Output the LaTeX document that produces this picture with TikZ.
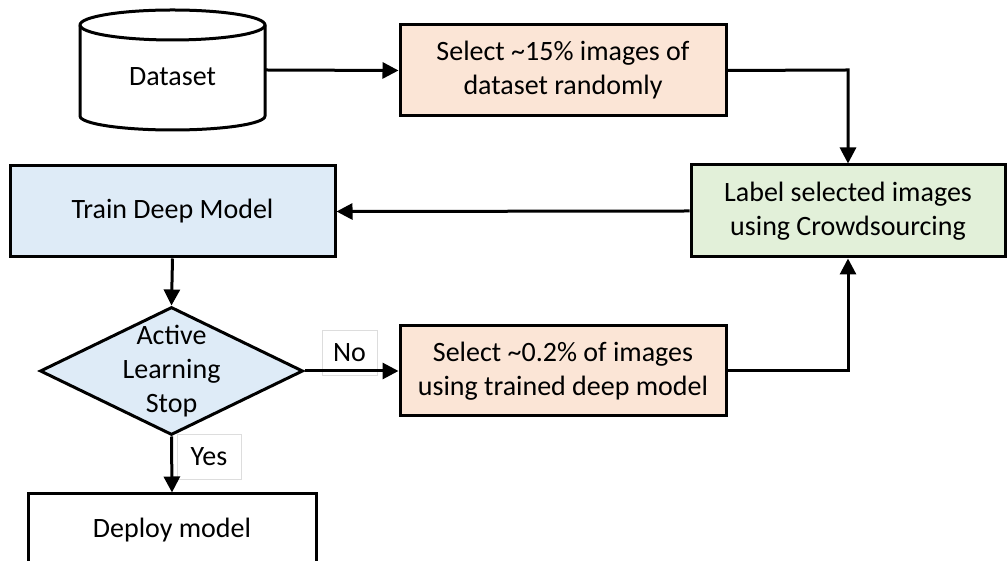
\documentclass[tikz,border=0pt]{standalone}
\usepackage{fontspec}
\setmainfont{Carlito}
\usetikzlibrary{shapes.geometric,arrows.meta}
\definecolor{peach}{HTML}{FBE5D6}
\definecolor{lblue}{HTML}{DEEBF7}
\definecolor{lgreen}{HTML}{E2F0D9}
\definecolor{tagline}{HTML}{DDDDDD}
\begin{document}
\begin{tikzpicture}[x=1pt,y=1pt,
  txt/.style={font=\fontsize{28}{34}\selectfont, align=center, inner sep=0pt},
  boxnode/.style={draw=black, line width=3pt, txt, anchor=center},
  tagbox/.style={draw=tagline, line width=0.8pt, fill=white, txt},
  conn/.style={line width=3pt, -{Triangle[length=16pt,width=16pt]}},
  plain/.style={line width=3pt}]
\clip (0,0) rectangle (1008,561);
\fill[white] (0,0) rectangle (1008,561);
% cylinder
\draw[line width=3pt, fill=white] (80,536) -- (80,445)
  arc[start angle=180, end angle=360, x radius=92.5, y radius=14]
  -- (265,536)
  arc[start angle=0, end angle=180, x radius=92.5, y radius=15] -- cycle;
\draw[line width=3pt] (80,536) arc[start angle=180, end angle=360, x radius=92.5, y radius=15];
\node[minimum width=185pt, minimum height=91pt, inner sep=0pt] (ds) at (172.5,491) {};
\node[txt] (dstext) at (172.5,484) {Dataset};
% boxes
\node[boxnode, fill=peach, minimum width=326pt, minimum height=91pt] (sel1) at (563,490.5)
  {Select \textasciitilde15\% images of\\dataset randomly};
\node[boxnode, fill=lgreen, minimum width=314pt, minimum height=92pt] (lab) at (848,350)
  {Label selected images\\using Crowdsourcing};
\node[boxnode, fill=lblue, minimum width=325pt, minimum height=91pt] (train) at (172.5,349.5)
  {Train Deep Model};
\node[draw=black, line width=3pt, fill=lblue, diamond, minimum width=263pt, minimum height=128pt, inner sep=0pt] (dec) at (171.5,190) {};
\node[txt] (dectext) at (171.5,190) {Active\\Learning\\Stop};
\node[boxnode, fill=peach, minimum width=326pt, minimum height=90pt] (sel2) at (563,190)
  {Select \textasciitilde0.2\% of images\\using trained deep model};
\node[boxnode, fill=white, minimum width=288pt, minimum height=72pt] (dep) at (172,31)
  {Deploy model};
% tags
\node[tagbox, minimum width=55pt, minimum height=45pt] (no) at (349.5,208.5) {No};
\node[tagbox, minimum width=64pt, minimum height=45pt] (yes) at (209,104.5) {Yes};
% connectors
\coordinate (c1) at (848,491);
\coordinate (c2) at (848,190);
\draw[conn] (ds.east) -- (sel1.west);
\draw[conn] (sel1.east) -- (c1) -- (lab.north);
\draw[conn] (lab.west) -- (train.east);
\draw[conn] (train.south) -- (dec.north);
\draw[conn] (dec.east) -- (sel2.west);
\draw[conn] (sel2.east) -- (c2) -- (lab.south);
\draw[conn] (dec.south) -- (dep.north);
\end{tikzpicture}
\end{document}
